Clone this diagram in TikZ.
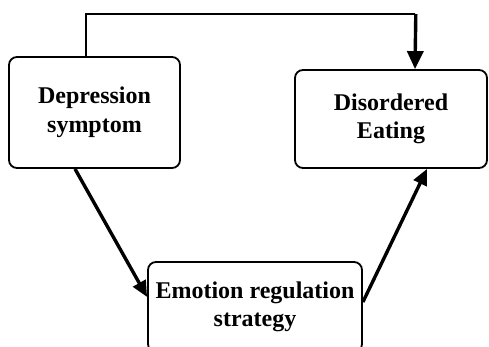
\documentclass[tikz,border=0pt]{standalone}
\usepackage{fontspec}
\setmainfont{Liberation Serif}
\usetikzlibrary{arrows.meta}

\begin{document}
\begin{tikzpicture}[x=1pt,y=-1pt,
    box/.style={draw, line width=1.8pt, rounded corners=8pt, align=center,
      font=\bfseries\fontsize{24}{28.5}\selectfont, inner sep=0pt},
    thick arrow/.style={line width=3.4pt, -{Triangle[length=16pt,width=14pt]}}]
    \useasboundingbox (0,0) rectangle (489,347);

    % Caja de depresion
    \node[box, minimum width=171, minimum height=111] (dep) at (94.5,112.5)
      {Depression\\symptom};

    % Caja de alimentacion
    \node[box, minimum width=192, minimum height=98] (dis) at (391,119)
      {Disordered\\Eating};

    % Caja de regulacion (cortada abajo)
    \node[box, minimum width=214, minimum height=90] (emo) at (255,307)
      {Emotion regulation\\strategy};

    % Camino superior
    \coordinate (top) at (415,14);
    \draw[line width=1.8pt] (dep.north -| 86,0) |- (top);
    \draw[line width=3.4pt, -{Triangle[length=18pt,width=16pt]}] ([xshift=0.8pt]top) -- (top |- dis.north);

    % Flechas diagonales
    \draw[thick arrow] (dep.south -| 75,0) -- (emo.west |- 0,297);
    \draw[thick arrow] (emo.east |- 0,302) -- (dis.south -| 427,0);
  \end{tikzpicture}
\end{document}
